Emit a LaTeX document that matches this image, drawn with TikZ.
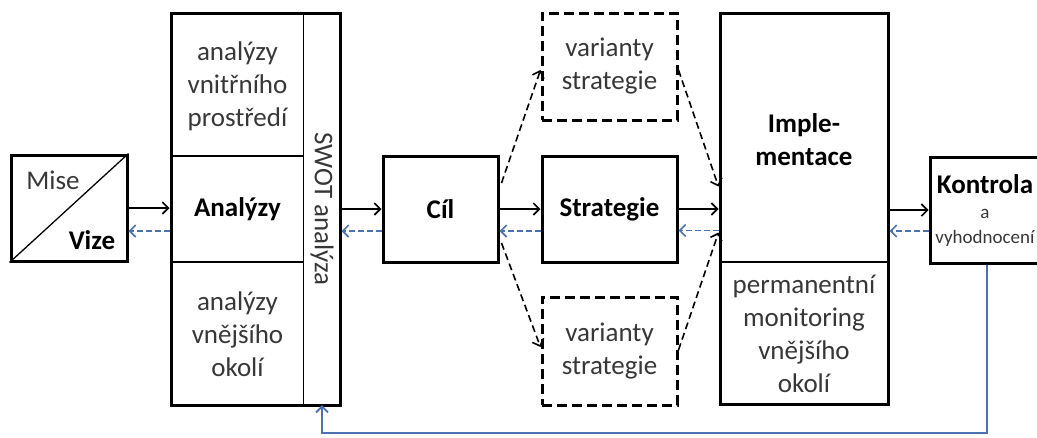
\documentclass[tikz,border=0pt]{standalone}
\usepackage{fontspec}
\setmainfont{Carlito}
\usetikzlibrary{arrows.meta,calc}
\definecolor{fbblue}{RGB}{74,114,176}
\definecolor{txt}{RGB}{55,55,55}
\begin{document}
\begin{tikzpicture}[x=1pt,y=-1pt,
  box/.style={draw, line width=3pt, inner sep=0pt},
  dbox/.style={draw, line width=3pt, dash pattern=on 10pt off 5pt, inner sep=0pt},
  divline/.style={line width=1.3pt},
  lbl/.style={font=\fontsize{27}{33}\selectfont, text=txt, align=center, inner sep=0pt},
  blbl/.style={font=\fontsize{27}{33}\selectfont\bfseries, text=black, align=center, inner sep=0pt},
  slbl/.style={font=\fontsize{19}{23}\selectfont, text=txt, align=center, inner sep=0pt},
  arr/.style={line width=1.6pt, -{Straight Barb[length=6pt,width=12pt]}},
  darr/.style={arr, dash pattern=on 7pt off 4pt},
  barr/.style={line width=1.6pt, draw=fbblue, dash pattern=on 6pt off 3pt, -{Straight Barb[length=6pt,width=12pt]}},
  fb/.style={line width=1.8pt, draw=fbblue, -{Straight Barb[length=6pt,width=12pt]}}
]
\useasboundingbox (0,0) rectangle (1037,437);
\clip (0,0) rectangle (1037,437);

% Mise / Vize
\node[box, minimum width=116pt, minimum height=106pt] (mv) at (69,208) {};
\draw[divline] (mv.south west) -- (mv.north east);
\node[lbl] (mise) at (53,180) {Mise};
\node[blbl] (vize) at (92,240) {Vize};

% Analyzy
\node[box, minimum width=169pt, minimum height=392pt] (an) at (255.5,209) {};
\node[minimum width=36pt, minimum height=392pt, inner sep=0pt] (swotcol) at (322,209) {};
\draw[divline] (swotcol.north west) -- (swotcol.south west);
\draw[divline] (171,156) -- (304,156);
\draw[divline] (171,262) -- (304,262);
\node[lbl] (anin) at (237.5,86) {analýzy\\vnitřního\\prostředí};
\node[blbl] (anmid) at (237.5,209) {Analýzy};
\node[lbl] (anout) at (237.5,334) {analýzy\\vnějšího\\okolí};
\node[lbl, rotate=-90] (swot) at (swotcol.center) {SWOT analýza};

% Cil, Strategie, varianty
\node[box, blbl, minimum width=115pt, minimum height=106pt] (ci) at (440.5,209) {Cíl};
\node[box, blbl, minimum width=135pt, minimum height=106pt] (st) at (609.5,209) {Strategie};
\node[dbox, lbl, minimum width=135pt, minimum height=107pt] (v1) at (609.5,66.5) {varianty\\strategie};
\node[dbox, lbl, minimum width=135pt, minimum height=108pt] (v2) at (609.5,351) {varianty\\strategie};

% Implementace
\node[box, minimum width=168pt, minimum height=391pt] (im) at (804,208.5) {};
\draw[divline] (720,262) -- (888,262);
\node[blbl] (imt) at (804,140) {Imple-\\mentace};
\node[lbl] (imb) at (804,334) {permanentní\\monitoring\\vnějšího\\okolí};

% Kontrola
\node[box, minimum width=114pt, minimum height=106pt] (ko) at (987,210) {};
\node[blbl, anchor=base] (kot) at (985,193) {Kontrola};
\node[slbl, anchor=base] (koa) at (985,218) {a};
\node[slbl, anchor=base] (kov) at (985,243) {vyhodnocení};

% forward arrows
\draw[arr] (mv.east) -- (mv.east -| an.west);
\draw[arr] (an.east) -- (ci.west);
\draw[arr] (ci.east) -- (st.west);
\draw[arr] (st.east) -- (st.east -| im.west);
\draw[arr] (ko.west -| im.east) -- (ko.west);

% backward blue dashed arrows
\coordinate (b1) at ([yshift=-22pt]an.west);
\draw[barr] (b1) -- (b1 -| mv.east);
\coordinate (b2) at ([yshift=-22pt]ci.west);
\draw[barr] (b2) -- (b2 -| an.east);
\coordinate (b3) at ([yshift=-22pt]st.west);
\draw[barr] (b3) -- (b3 -| ci.east);
\coordinate (b4) at ([yshift=-22pt]im.west);
\draw[barr] (b4) -- (b4 -| st.east);
\coordinate (b5) at ([yshift=-21pt]ko.west);
\draw[barr] (b5) -- (b5 -| im.east);

% variant arrows
\draw[darr] ([xshift=2pt,yshift=26pt]ci.east) -- ([yshift=-3.5pt]v1.west);
\draw[darr] ([yshift=-3.5pt]v1.east) -- ([yshift=22pt]im.west);
\draw[darr] ([xshift=2pt,yshift=-34pt]ci.east) -- ([yshift=4pt]v2.west);
\draw[darr] ([yshift=1pt]v2.east) -- ([yshift=-24pt]im.west);

% feedback
\coordinate (low) at (0,433);
\draw[fb] (ko.south) -- (ko.south |- low) -| (swotcol.south);
\end{tikzpicture}
\end{document}
